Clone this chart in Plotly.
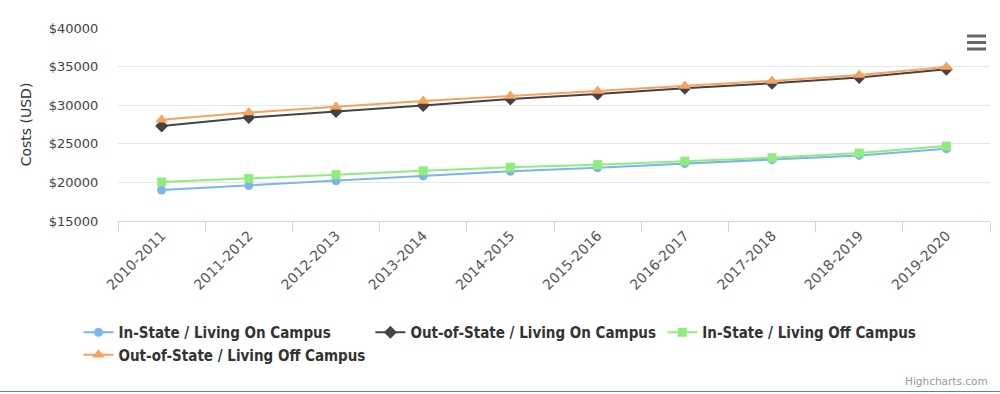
import plotly.graph_objects as go

years = ["2010-2011", "2011-2012", "2012-2013", "2013-2014", "2014-2015",
         "2015-2016", "2016-2017", "2017-2018", "2018-2019", "2019-2020"]
in_state_on = [19000, 19600, 20200, 20850, 21450, 21900, 22450, 22950, 23500, 24350]
out_state_on = [27300, 28400, 29200, 29950, 30800, 31450, 32200, 32850, 33600, 34650]
in_state_off = [20050, 20500, 21000, 21500, 21950, 22300, 22750, 23200, 23800, 24700]
out_state_off = [28100, 29050, 29800, 30550, 31200, 31850, 32500, 33150, 33900, 34950]
y_ticks = [15000, 20000, 25000, 30000, 35000, 40000]
y_tick_text = ["$" + str(v) for v in y_ticks]

W, H = 1000, 394
ML, MR, MT, MB = 118, 10, 28, 173
PW, PH = W - ML - MR, H - MT - MB

def px(x):
    return (x - ML) / PW

def py(y):
    return (H - MB - y) / PH

FONT = "DejaVu Sans, sans-serif"
LEGEND_FONT = "DejaVu Sans Condensed, DejaVu Sans, sans-serif"

series = [
    ("In-State / Living On Campus", in_state_on, "#7cb5ec", "circle", 9),
    ("Out-of-State / Living On Campus", out_state_on, "#434348", "diamond", 10),
    ("In-State / Living Off Campus", in_state_off, "#90ed7d", "square", 9),
    ("Out-of-State / Living Off Campus", out_state_off, "#f7a35c", "triangle-up", 11),
]

fig = go.Figure()
for name, vals, color, sym, size in series:
    fig.add_trace(go.Scatter(
        x=years, y=vals, name=name, mode="lines+markers",
        line=dict(color=color, width=2),
        marker=dict(symbol=sym, size=size, color=color),
    ))

shapes = []
# hamburger menu icon
for yy in (36, 42.5, 49):
    shapes.append(dict(type="line", xref="paper", yref="paper",
                       x0=px(967), x1=px(986), y0=py(yy), y1=py(yy),
                       line=dict(color="#666666", width=3)))
# bottom border line
shapes.append(dict(type="line", xref="paper", yref="paper",
                   x0=px(0), x1=px(1000), y0=py(391.5), y1=py(391.5),
                   line=dict(color="#5b7fc7", width=1)))

fig.update_layout(
    width=W, height=H,
    margin=dict(l=ML, r=MR, t=MT, b=MB),
    paper_bgcolor="white", plot_bgcolor="white",
    font=dict(family=FONT, color="#333333"),
    showlegend=True,
    legend=dict(
        orientation="h", xref="container", x=0.5, xanchor="center",
        yref="container", y=(H - 316) / H, yanchor="top",
        font=dict(family=LEGEND_FONT, size=15, color="#333333", weight="bold"),
        itemwidth=30,
    ),
    xaxis=dict(
        type="category", range=[-0.5, 9.5],
        showline=True, linecolor="#ccd6eb", linewidth=1,
        ticks="outside", tickson="boundaries", ticklen=10, tickcolor="#ccd6eb",
        tickangle=-45, tickfont=dict(size=14, color="#555555"),
        showgrid=False, zeroline=False,
    ),
    yaxis=dict(
        range=[15000, 40000], tickvals=y_ticks, ticktext=y_tick_text,
        showgrid=True, gridcolor="#e6e6e6", gridwidth=1,
        zeroline=False, showline=False,
        ticks="outside", ticklen=16, tickcolor="rgba(0,0,0,0)",
        tickfont=dict(size=13, color="#444444"),
        title=dict(text="Costs (USD)", font=dict(size=14, color="#333333"), standoff=13),
    ),
    shapes=shapes,
    annotations=[dict(
        text="Highcharts.com", xref="paper", yref="paper",
        x=px(990), y=py(381), xanchor="right", yanchor="middle",
        showarrow=False, font=dict(size=10.5, color="#999999"),
    )],
)

fig.write_html("out.html", config={"displayModeBar": False},
               post_script="document.body.style.margin='0';")
